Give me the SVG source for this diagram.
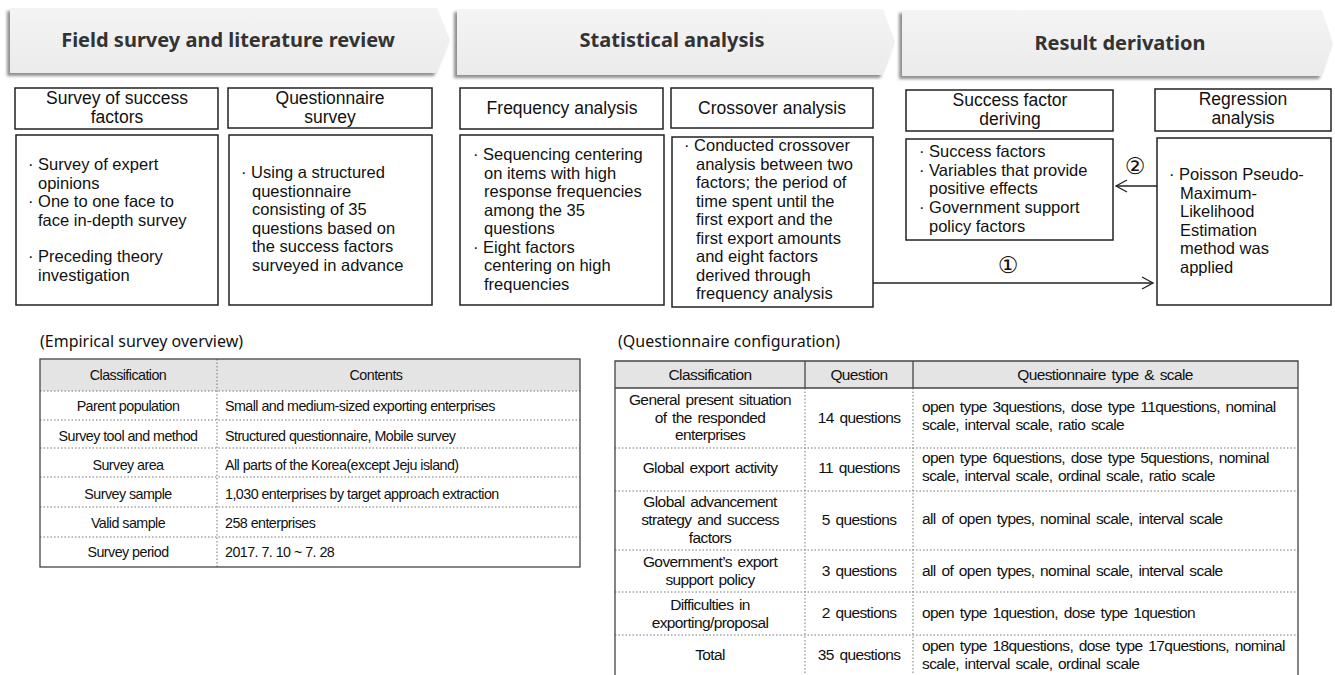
<svg xmlns="http://www.w3.org/2000/svg" width="1335" height="675" viewBox="0 0 1335 675">
<defs>
<linearGradient id="bg" x1="0" y1="0" x2="0" y2="1">
<stop offset="0" stop-color="#f4f4f4"/>
<stop offset="1" stop-color="#ebebeb"/>
</linearGradient>
<filter id="sh" x="-5%" y="-20%" width="110%" height="150%">
<feDropShadow dx="-3" dy="3" stdDeviation="1.6" flood-color="#555" flood-opacity="0.65"/>
</filter>
<marker id="ah" markerWidth="14" markerHeight="14" refX="12" refY="7" orient="auto" markerUnits="userSpaceOnUse">
<path d="M1,1 L12,7 L1,13" fill="none" stroke="#222" stroke-width="1.3"/>
</marker>
</defs>
<style>
.ban{fill:url(#bg);filter:url(#sh)}
.bt{font-family:"Noto Sans","Open Sans",sans-serif;font-weight:bold;font-size:20px;fill:#333;text-anchor:middle}
.box{fill:#fff;stroke:#222;stroke-width:1.5}
.ht{font-family:"Liberation Sans",Arial,sans-serif;font-size:17.5px;fill:#111;text-anchor:middle}
.ct{font-family:"Liberation Sans",Arial,sans-serif;font-size:16.5px;fill:#111}
.cap{font-family:"Noto Sans","Open Sans",sans-serif;font-size:16px;fill:#111}
.t1{font-family:"Liberation Sans",Arial,sans-serif;font-size:14.3px;fill:#111;letter-spacing:-0.55px}
.t2{font-family:"Liberation Sans",Arial,sans-serif;font-size:15.5px;fill:#111;letter-spacing:-0.6px;word-spacing:2px}
.tc{text-anchor:middle}
.thd{fill:#e4e4e4}
.sl{stroke:#444;stroke-width:1.3;fill:none}
.dl{stroke:#777;stroke-width:1;stroke-dasharray:1.5 2;fill:none}
.con{stroke:#222;stroke-width:1.3;fill:none}
.num{font-family:"DejaVu Sans",sans-serif;font-size:23px;fill:#111;text-anchor:middle}
</style>

<!-- Banners -->
<g id="banner1">
<polygon class="ban" points="10,8 437,8 450,40 437,73 10,73"/>
<text class="bt" x="228" y="47">Field survey and literature review</text>
</g>
<g id="banner2">
<polygon class="ban" points="457,9 883,9 895,42 883,75 457,75"/>
<text class="bt" x="672" y="47">Statistical analysis</text>
</g>
<g id="banner3">
<polygon class="ban" points="902,10 1322,10 1333,43 1322,76 902,76"/>
<text class="bt" x="1120" y="50">Result derivation</text>
</g>

<!-- Header boxes -->
<g id="h-success">
<rect class="box" x="15" y="88" width="203" height="41"/>
<text class="ht" y="104"><tspan x="117">Survey of success</tspan><tspan x="117" dy="19">factors</tspan></text>
</g>
<g id="h-questionnaire">
<rect class="box" x="228" y="88" width="204" height="40"/>
<text class="ht" y="104"><tspan x="330">Questionnaire</tspan><tspan x="330" dy="19">survey</tspan></text>
</g>
<g id="h-frequency">
<rect class="box" x="460" y="88" width="203" height="41"/>
<text class="ht" x="562" y="114">Frequency analysis</text>
</g>
<g id="h-crossover">
<rect class="box" x="671" y="88" width="202" height="40"/>
<text class="ht" x="772" y="114">Crossover analysis</text>
</g>
<g id="h-deriving">
<rect class="box" x="906" y="90" width="207" height="41"/>
<text class="ht" y="106"><tspan x="1010">Success factor</tspan><tspan x="1010" dy="19">deriving</tspan></text>
</g>
<g id="h-regression">
<rect class="box" x="1155" y="89" width="176" height="42"/>
<text class="ht" y="105"><tspan x="1243">Regression</tspan><tspan x="1243" dy="19">analysis</tspan></text>
</g>

<!-- Content boxes -->
<g id="c-success">
<rect class="box" x="16" y="135" width="202" height="170"/>
<text class="ct" y="170"><tspan x="28">· Survey of expert</tspan><tspan x="38" dy="18.7">opinions</tspan><tspan x="28" dy="18.7">· One to one face to</tspan><tspan x="38" dy="18.7">face in-depth survey</tspan><tspan x="28" dy="36">· Preceding theory</tspan><tspan x="38" dy="18.7">investigation</tspan></text>
</g>
<g id="c-questionnaire">
<rect class="box" x="229" y="135" width="203" height="170"/>
<text class="ct" y="178"><tspan x="241">· Using a structured</tspan><tspan x="252" dy="18.6">questionnaire</tspan><tspan x="252" dy="18.6">consisting of 35</tspan><tspan x="252" dy="18.6">questions based on</tspan><tspan x="252" dy="18.6">the success factors</tspan><tspan x="252" dy="18.6">surveyed in advance</tspan></text>
</g>
<g id="c-frequency">
<rect class="box" x="460" y="135" width="204" height="170"/>
<text class="ct" y="160"><tspan x="473">· Sequencing centering</tspan><tspan x="484" dy="18.5">on items with high</tspan><tspan x="484" dy="18.5">response frequencies</tspan><tspan x="484" dy="18.5">among the 35</tspan><tspan x="484" dy="18.5">questions</tspan><tspan x="473" dy="18.5">· Eight factors</tspan><tspan x="484" dy="18.5">centering on high</tspan><tspan x="484" dy="18.5">frequencies</tspan></text>
</g>
<g id="c-crossover">
<rect class="box" x="672" y="137" width="201" height="170"/>
<text class="ct" y="151"><tspan x="684">· Conducted crossover</tspan><tspan x="696" dy="18.5">analysis between two</tspan><tspan x="696" dy="18.5">factors; the period of</tspan><tspan x="696" dy="18.5">time spent until the</tspan><tspan x="696" dy="18.5">first export and the</tspan><tspan x="696" dy="18.5">first export amounts</tspan><tspan x="696" dy="18.5">and eight factors</tspan><tspan x="696" dy="18.5">derived through</tspan><tspan x="696" dy="18.5">frequency analysis</tspan></text>
</g>
<g id="c-deriving">
<rect class="box" x="906" y="139" width="207" height="101"/>
<text class="ct" y="157"><tspan x="919">· Success factors</tspan><tspan x="919" dy="18.7">· Variables that provide</tspan><tspan x="929" dy="18.7">positive effects</tspan><tspan x="919" dy="18.7">· Government support</tspan><tspan x="929" dy="18.7">policy factors</tspan></text>
</g>
<g id="c-regression">
<rect class="box" x="1157" y="138" width="174" height="167"/>
<text class="ct" y="180"><tspan x="1169">· Poisson Pseudo-</tspan><tspan x="1180" dy="18.5">Maximum-</tspan><tspan x="1180" dy="18.5">Likelihood</tspan><tspan x="1180" dy="18.5">Estimation</tspan><tspan x="1180" dy="18.5">method was</tspan><tspan x="1180" dy="18.5">applied</tspan></text>
</g>

<!-- Connectors -->
<g id="connectors">
<line class="con" x1="873" y1="283" x2="1153" y2="283" marker-end="url(#ah)"/>
<text class="num" x="1008" y="273">①</text>
<line class="con" x1="1157" y1="186" x2="1116" y2="186" marker-end="url(#ah)"/>
<text class="num" x="1135" y="174">②</text>
</g>

<!-- Table 1 -->
<g id="table-empirical">
<text class="cap" x="40" y="347">(Empirical survey overview)</text>
<rect class="thd" x="40" y="359" width="540" height="32"/>
<line class="dl" x1="40" y1="391" x2="580" y2="391"/>
<line class="dl" x1="40" y1="420" x2="580" y2="420"/>
<line class="dl" x1="40" y1="448" x2="580" y2="448"/>
<line class="dl" x1="40" y1="477" x2="580" y2="477"/>
<line class="dl" x1="40" y1="507" x2="580" y2="507"/>
<line class="dl" x1="40" y1="537" x2="580" y2="537"/>
<line class="dl" x1="217" y1="359" x2="217" y2="567"/>
<rect class="sl" x="40" y="359" width="540" height="208"/>
<text class="t1 tc" x="128" y="380">Classification</text>
<text class="t1 tc" x="376" y="380">Contents</text>
<text class="t1 tc" x="128" y="411">Parent population</text>
<text class="t1" x="225" y="411">Small and medium-sized exporting enterprises</text>
<text class="t1 tc" x="128" y="441">Survey tool and method</text>
<text class="t1" x="225" y="441">Structured questionnaire, Mobile survey</text>
<text class="t1 tc" x="128" y="470">Survey area</text>
<text class="t1" x="225" y="470">All parts of the Korea(except Jeju island)</text>
<text class="t1 tc" x="128" y="499">Survey sample</text>
<text class="t1" x="225" y="499">1,030 enterprises by target approach extraction</text>
<text class="t1 tc" x="128" y="528">Valid sample</text>
<text class="t1" x="225" y="528">258 enterprises</text>
<text class="t1 tc" x="128" y="557">Survey period</text>
<text class="t1" x="225" y="557">2017. 7. 10 ~ 7. 28</text>
</g>

<!-- Table 2 -->
<g id="table-questionnaire">
<text class="cap" x="618" y="347">(Questionnaire configuration)</text>
<rect class="thd" x="615" y="361" width="683" height="27"/>
<line class="dl" x1="615" y1="448" x2="1298" y2="448"/>
<line class="dl" x1="615" y1="491" x2="1298" y2="491"/>
<line class="dl" x1="615" y1="550" x2="1298" y2="550"/>
<line class="dl" x1="615" y1="592" x2="1298" y2="592"/>
<line class="dl" x1="615" y1="635" x2="1298" y2="635"/>
<line class="dl" x1="805" y1="388" x2="805" y2="675"/>
<line class="dl" x1="913" y1="388" x2="913" y2="675"/>
<line class="sl" x1="805" y1="361" x2="805" y2="388"/>
<line class="sl" x1="913" y1="361" x2="913" y2="388"/>
<line class="sl" x1="615" y1="388" x2="1298" y2="388"/>
<path class="sl" d="M615,675 V361 H1298 V675"/>
<text class="t2 tc" x="710" y="380">Classification</text>
<text class="t2 tc" x="859" y="380">Question</text>
<text class="t2 tc" x="1105" y="380">Questionnaire type &amp; scale</text>
<text class="t2 tc" y="405"><tspan x="710">General present situation</tspan><tspan x="710" dy="17.5">of the responded</tspan><tspan x="710" dy="17.5">enterprises</tspan></text>
<text class="t2 tc" x="859" y="423">14 questions</text>
<text class="t2" y="412"><tspan x="922">open type 3questions, dose type 11questions, nominal</tspan><tspan x="922" dy="18">scale, interval scale, ratio scale</tspan></text>
<text class="t2 tc" x="710" y="473">Global export activity</text>
<text class="t2 tc" x="859" y="473">11 questions</text>
<text class="t2" y="463"><tspan x="922">open type 6questions, dose type 5questions, nominal</tspan><tspan x="922" dy="18">scale, interval scale, ordinal scale, ratio scale</tspan></text>
<text class="t2 tc" y="507"><tspan x="710">Global advancement</tspan><tspan x="710" dy="18">strategy and success</tspan><tspan x="710" dy="18">factors</tspan></text>
<text class="t2 tc" x="859" y="525">5 questions</text>
<text class="t2" x="922" y="524">all of open types, nominal scale, interval scale</text>
<text class="t2 tc" y="567"><tspan x="710">Government’s export</tspan><tspan x="710" dy="18">support policy</tspan></text>
<text class="t2 tc" x="859" y="576">3 questions</text>
<text class="t2" x="922" y="576">all of open types, nominal scale, interval scale</text>
<text class="t2 tc" y="610"><tspan x="710">Difficulties in</tspan><tspan x="710" dy="18">exporting/proposal</tspan></text>
<text class="t2 tc" x="859" y="618">2 questions</text>
<text class="t2" x="922" y="618">open type 1question, dose type 1question</text>
<text class="t2 tc" x="710" y="660">Total</text>
<text class="t2 tc" x="859" y="660">35 questions</text>
<text class="t2" y="651"><tspan x="922">open type 18questions, dose type 17questions, nominal</tspan><tspan x="922" dy="17.5">scale, interval scale, ordinal scale</tspan></text>
</g>
</svg>
